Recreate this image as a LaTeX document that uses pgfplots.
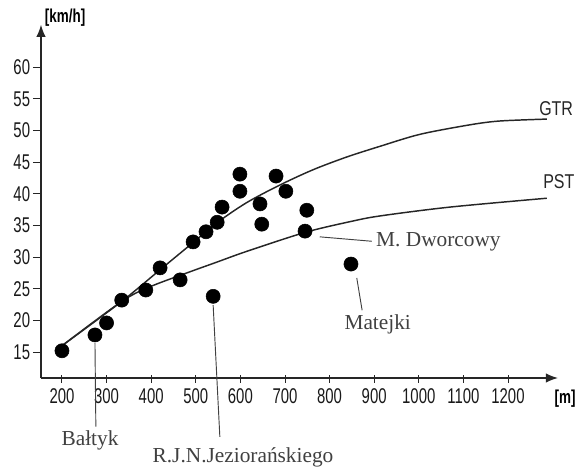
\documentclass[border=0pt]{standalone}
\usepackage{fontspec}
\setmainfont{Liberation Serif}
\setsansfont{Liberation Sans}
\usepackage{graphicx}
\usepackage{pgfplots}
\pgfplotsset{compat=1.18}
\usetikzlibrary{arrows.meta}

% condensed sans tick numbers
\newcommand{\tn}[1]{\scalebox{0.7}[1]{\sffamily\fontsize{16}{16}\selectfont #1}}

\begin{document}
\begin{tikzpicture}
\begin{axis}[
  at={(0,0)}, anchor=south west,
  x=0.3345pt, y=4.7475pt,
  xmin=153, xmax=1312, ymin=10.9, ymax=66.7,
  axis lines=left,
  axis line style={line width=0.9pt, black!85, -{Latex[length=9pt,width=7pt]}},
  xtick={200,300,400,500,600,700,800,900,1000,1100,1200},
  ytick={15,20,25,30,35,40,45,50,55,60},
  xticklabels={\tn{200},\tn{300},\tn{400},\tn{500},\tn{600},\tn{700},\tn{800},\tn{900},\tn{1000},\tn{1100},\tn{1200}},
  yticklabels={\tn{15},\tn{20},\tn{25},\tn{30},\tn{35},\tn{40},\tn{45},\tn{50},\tn{55},\tn{60}},
  tick align=outside, major tick length=6pt,
  tick style={line width=0.7pt, black!85},
  x tick style={yshift=2.5pt},
  ticklabel style={text=black!90, inner sep=2pt},
  clip=false,
]
% annotation leaders
\draw[line width=0.7pt, black!75] (axis cs:274,16.4) -- (axis cs:276,3.2);
\draw[line width=0.7pt, black!75] (axis cs:539,22.4) -- (axis cs:554,1.6);
\draw[line width=0.7pt, black!75] (axis cs:778,33.2) -- (axis cs:895,32.5);
\draw[line width=0.7pt, black!75] (axis cs:861,26.7) -- (axis cs:873,21.6);

% fitted curves
\addplot[smooth, line width=1.1pt, black!85] coordinates {
  (202,16.1) (334,23.0) (420,28.0) (494,32.3) (547,35.4) (614,38.6)
  (689,41.4) (763,43.8) (838,45.8) (913,47.5) (1003,49.4) (1115,50.9)
  (1182,51.5) (1287,51.8)
};
\addplot[smooth, line width=1.1pt, black!85] coordinates {
  (202,16.1) (334,23.0) (397,25.3) (480,27.5) (547,29.2) (614,30.9)
  (745,33.9) (846,35.6) (913,36.5) (1070,37.9) (1287,39.3)
};

% measured speeds
\addplot[only marks, mark=*, mark size=5.3pt, black] coordinates {
  (200,15.2) (274,17.7) (300,19.6) (334,23.2) (388,24.8) (420,28.3)
  (465,26.4) (494,32.4) (523,34.0) (548,35.5) (559,37.9) (599,43.1)
  (599,40.4) (539,23.8) (644,38.4) (648,35.2) (680,42.8) (702,40.4)
  (749,37.4) (745,34.1) (848,28.9)
};

% labels
\node[font=\sffamily\bfseries\fontsize{14}{14}\selectfont] at (axis cs:207,67.9) {\scalebox{0.72}[1]{[km/h]}};
\node[font=\sffamily\bfseries\fontsize{14}{14}\selectfont] at (axis cs:1328,7.6) {\scalebox{0.72}[1]{[m]}};
\node[font=\sffamily\fontsize{15}{15}\selectfont, text=black!85] at (axis cs:1308,53.5) {\scalebox{0.8}[1]{GTR}};
\node[font=\sffamily\fontsize{15}{15}\selectfont, text=black!85] at (axis cs:1314,42.0) {\scalebox{0.8}[1]{PST}};

\node[font=\fontsize{16}{16}\selectfont, text=black!75] at (axis cs:263,1.1) {Bałtyk};
\node[font=\fontsize{16}{16}\selectfont, text=black!75] at (axis cs:606,-1.7) {R.J.N.Jeziorańskiego};
\node[font=\fontsize{16}{16}\selectfont, text=black!75, anchor=west, inner sep=0pt] at (axis cs:904,32.4) {M. Dworcowy};
\node[font=\fontsize{16}{16}\selectfont, text=black!75] at (axis cs:908,19.3) {Matejki};
\end{axis}
\pgfresetboundingbox
\path[use as bounding box] (-30.75pt,-71.25pt) rectangle (404.25pt,283.5pt);
\end{tikzpicture}
\end{document}
